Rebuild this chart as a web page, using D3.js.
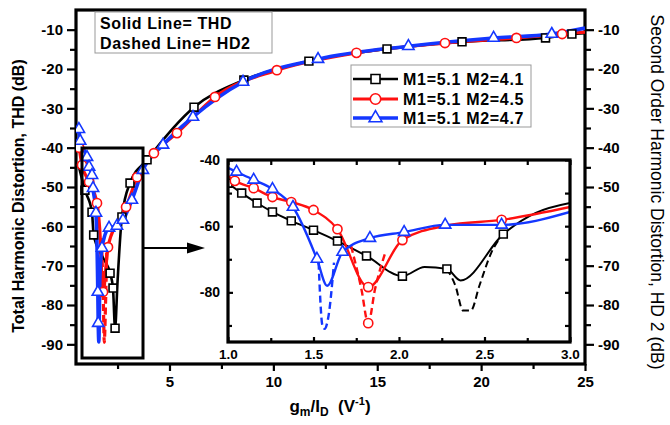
<!DOCTYPE html>
<html><head><meta charset="utf-8">
<script src="https://cdn.jsdelivr.net/npm/d3@7"></script>
<style>
body{margin:0;background:#fff;}
svg{display:block;font-family:"Liberation Sans",Arial,sans-serif;}
</style></head><body>
<svg id="c" width="670" height="425"></svg>
<script>
// ---------------- DATA ----------------
const seriesNames = ["M1=5.1 M2=4.1", "M1=5.1 M2=4.5", "M1=5.1 M2=4.7"];
const xMajorTicks = [5, 10, 15, 20, 25];
const xMinorTicks = [2.5, 7.5, 12.5, 17.5, 22.5];
const yMajorTicks = [-10, -20, -30, -40, -50, -60, -70, -80, -90];
const yMinorTicks = [-15, -25, -35, -45, -55, -65, -75, -85];
const insetXTicks = [1.0, 1.5, 2.0, 2.5, 3.0];
const insetXMinor = [1.25, 1.75, 2.25, 2.75];
const insetYTicks = [-40, -60, -80];
const insetYMinor = [-50, -70, -90];

// main plot: THD (x = gm/ID, y = dB); marked points and unmarked curve points
const mainBlackThd = [[0.93,-50.8],[1.27,-56.4],[1.35,-62.2],[2.14,-71.9],[2.28,-75.7],[2.38,-85.9],[2.71,-57.6],[3.1,-49],[3.92,-43.1],[6.18,-29.7],[8.58,-22.8],[11.71,-18.0],[15.47,-14.9],[19.08,-13.1],[23.1,-12.1],[24.37,-11.1]];
const mainBlackExtra = [[0.6,-44],[1.8,-68],[2.5,-74],[25,-10.9]];
const mainRedThd = [[0.65,-40],[0.79,-44.4],[1.13,-48.7],[1.51,-54.1],[1.8,-76.7],[2.04,-65.3],[2.91,-55.1],[3.44,-47.5],[4.25,-41.4],[5.36,-36.3],[7.19,-27.1],[10.17,-20.3],[14.0,-15.9],[18.26,-13.4],[21.7,-12.1],[23.9,-11.1]];
const mainRedExtra = [[1.64,-60.5],[2.5,-59],[25,-10.6]];
const mainRedHd2 = [[1.72,-63],[1.82,-80],[1.86,-89.5],[1.92,-80],[1.98,-66]];
const mainBlueThd = [[0.64,-35.3],[0.7,-38.3],[1.03,-42.4],[1.13,-44.9],[1.27,-47.0],[1.32,-50.3],[1.46,-56.6],[1.55,-76.7],[1.57,-84.6],[1.75,-65.5],[2.09,-60.4],[2.47,-59.9],[2.76,-58.4],[3.19,-53.3],[3.72,-45.7],[4.69,-39.3],[6.13,-32.2],[8.54,-23.3],[12.15,-17.5],[16.5,-14.2],[20.6,-12.1],[23.4,-11.1]];
const mainBlueExtra = [[1.6,-89.4],[1.65,-73],[25,-9.6]];

// inset: THD marked points, unmarked curve points, and HD2 dashed dips
const insetBlackThd = [[1.0,-47.0],[1.08,-50.0],[1.17,-53.0],[1.26,-55.7],[1.37,-58.4],[1.50,-61.2],[1.64,-64.5],[1.81,-69.0],[2.02,-75.1],[2.28,-72.9],[2.61,-62.4]];
const insetBlackExtra = [[2.15,-72.3],[2.36,-76.4],[2.8,-56],[3.0,-53.0]];
const insetBlackHd2 = [[2.28,-72.9],[2.33,-78],[2.375,-85.5],[2.42,-85.5],[2.47,-78],[2.54,-68],[2.61,-62.4]];
const insetRedThd = [[1.04,-46.3],[1.15,-48.5],[1.26,-51.2],[1.37,-52.7],[1.50,-55.1],[1.64,-60.9],[1.82,-78.4],[2.02,-64.2],[2.60,-58.1]];
const insetRedExtra = [[1.0,-44.8],[2.28,-59.8],[3.0,-54.2]];
const insetRedHd2 = [[1.72,-66],[1.78,-79],[1.82,-89.3],[1.86,-79],[1.92,-68]];
const insetRedHd2Marks = [[1.82,-89.3]];
const insetBlueThd = [[1.05,-43.6],[1.15,-46.0],[1.26,-48.8],[1.38,-54.2],[1.52,-69.9],[1.67,-67.8],[1.83,-63.6],[2.03,-61.8],[2.27,-59.6],[2.60,-59.6]];
const insetBlueExtra = [[1.0,-42.4],[1.58,-78],[3.0,-55.7]];
const insetBlueHd2 = [[1.53,-71],[1.552,-90],[1.565,-91],[1.585,-88],[1.62,-71]];

// ---------------- DRAW ----------------
const svg = d3.select("#c");
const FONT = "'Liberation Sans', Arial, sans-serif";
const x = d3.scaleLinear().domain([0.5, 25]).range([76, 585]);
const y = d3.scaleLinear().domain([-95, -5]).range([364, 10]);
const ix = d3.scaleLinear().domain([1, 3]).range([228, 570]);
const iy = d3.scaleLinear().domain([-95, -40]).range([342, 160]);

const colors = ["#000000", "#ff1010", "#1437ff"];
const symbols = [d3.symbolSquare, d3.symbolCircle, d3.symbolTriangle];
const symSize = [62, 66, 55];

function styleAxis(g, fs) {
  g.select(".domain").remove();
  g.selectAll(".tick line").attr("stroke", "#000").attr("stroke-width", 2.2);
  g.selectAll(".tick text").attr("fill", "#000").attr("font-size", fs).attr("font-weight", "bold")
    .attr("font-family", FONT);
}

// main axes
const fmt = d => String(d);
svg.append("g").attr("transform", "translate(76,0)")
  .call(d3.axisLeft(y).tickValues(yMajorTicks).tickSize(9).tickPadding(4).tickFormat(fmt))
  .call(g => styleAxis(g, 15));
svg.append("g").attr("transform", "translate(76,0)")
  .call(d3.axisLeft(y).tickValues(yMinorTicks).tickSize(6).tickFormat(""))
  .call(g => styleAxis(g, 15));
svg.append("g").attr("transform", "translate(585,0)")
  .call(d3.axisRight(y).tickValues(yMajorTicks).tickSize(9).tickPadding(4).tickFormat(fmt))
  .call(g => styleAxis(g, 15));
svg.append("g").attr("transform", "translate(585,0)")
  .call(d3.axisRight(y).tickValues(yMinorTicks).tickSize(6).tickFormat(""))
  .call(g => styleAxis(g, 15));
svg.append("g").attr("transform", "translate(0,364)")
  .call(d3.axisBottom(x).tickValues(xMajorTicks).tickSize(7).tickPadding(5).tickFormat(fmt))
  .call(g => styleAxis(g, 15));
svg.append("g").attr("transform", "translate(0,364)")
  .call(d3.axisBottom(x).tickValues(xMinorTicks).tickSize(5).tickFormat(""))
  .call(g => styleAxis(g, 15));

svg.append("rect").attr("x", x(0.5)).attr("y", y(-5)).attr("width", x(25) - x(0.5)).attr("height", y(-95) - y(-5))
  .attr("fill", "none").attr("stroke", "#000").attr("stroke-width", 3.2);

// main curves
const mainSeries = [
  {marks: mainBlackThd, extra: mainBlackExtra, hd2: null, lw: 2.6},
  {marks: mainRedThd, extra: mainRedExtra, hd2: mainRedHd2, lw: 3.2},
  {marks: mainBlueThd, extra: mainBlueExtra, hd2: null, lw: 3.6}
];
const mainLine = d3.line().x(d => x(d[0])).y(d => y(d[1])).curve(d3.curveMonotoneX);
const mainClip = svg.append("clipPath").attr("id", "mclip").append("rect")
  .attr("x", x(0.5)).attr("y", y(-5)).attr("width", x(25) - x(0.5)).attr("height", y(-95) - y(-5));
const mg = svg.append("g").attr("clip-path", "url(#mclip)");
mainSeries.forEach((s, i) => {
  const pts = s.marks.concat(s.extra).sort((a, b) => a[0] - b[0]);
  mg.append("path").attr("d", mainLine(pts)).attr("fill", "none").attr("stroke", colors[i])
    .attr("stroke-width", s.lw).attr("stroke-linejoin", "round");
  if (s.hd2) mg.append("path").attr("d", mainLine(s.hd2)).attr("fill", "none").attr("stroke", colors[i])
    .attr("stroke-width", s.lw).attr("stroke-dasharray", "7,4");
});
mainSeries.forEach((s, i) => {
  mg.selectAll(null).data(s.marks).enter().append("path")
    .attr("transform", d => `translate(${x(d[0])},${y(d[1])})`)
    .attr("d", d3.symbol().type(symbols[i]).size(symSize[i]))
    .attr("fill", "#fff").attr("stroke", colors[i]).attr("stroke-width", 1.6);
});

// zoom box + arrow
svg.append("rect").attr("x", 82).attr("y", 148).attr("width", 61).attr("height", 210)
  .attr("fill", "none").attr("stroke", "#000").attr("stroke-width", 3);
svg.append("line").attr("x1", 143).attr("x2", 192).attr("y1", 248).attr("y2", 248).attr("stroke", "#000").attr("stroke-width", 2);
svg.append("path").attr("d", "M187,242.5L205,248L187,253.5Z").attr("fill", "#000");

// inset
const ig = svg.append("g");
ig.append("rect").attr("x", 228).attr("y", 160).attr("width", 342).attr("height", 182).attr("fill", "#fff");
ig.append("g").attr("transform", "translate(0,342)")
  .call(d3.axisBottom(ix).tickValues(insetXTicks).tickSize(-5).tickPadding(7).tickFormat(d3.format(".1f")))
  .call(g => styleAxis(g, 13.5));
ig.append("g").attr("transform", "translate(0,342)")
  .call(d3.axisBottom(ix).tickValues(insetXMinor).tickSize(-4).tickFormat(""))
  .call(g => styleAxis(g, 13.5));
ig.append("g").attr("transform", "translate(0,160)")
  .call(d3.axisTop(ix).tickValues(insetXTicks.concat(insetXMinor)).tickSize(-5).tickFormat(""))
  .call(g => styleAxis(g, 13.5));
ig.append("g").attr("transform", "translate(228,0)")
  .call(d3.axisLeft(iy).tickValues(insetYTicks).tickSize(-5).tickPadding(8).tickFormat(fmt))
  .call(g => styleAxis(g, 14));
ig.append("g").attr("transform", "translate(228,0)")
  .call(d3.axisLeft(iy).tickValues(insetYMinor).tickSize(-4).tickFormat(""))
  .call(g => styleAxis(g, 14));
ig.append("g").attr("transform", "translate(570,0)")
  .call(d3.axisRight(iy).tickValues(insetYTicks.concat(insetYMinor)).tickSize(-5).tickFormat(""))
  .call(g => styleAxis(g, 14));

svg.append("clipPath").attr("id", "iclip").append("rect").attr("x", 228).attr("y", 160).attr("width", 342).attr("height", 182);
const icg = ig.append("g").attr("clip-path", "url(#iclip)");
const insetLine = d3.line().x(d => ix(d[0])).y(d => iy(d[1])).curve(d3.curveMonotoneX);
const insetSeries = [
  {marks: insetBlackThd, extra: insetBlackExtra, hd2: insetBlackHd2, hd2Marks: [], lw: 2},
  {marks: insetRedThd, extra: insetRedExtra, hd2: insetRedHd2, hd2Marks: insetRedHd2Marks, lw: 2.4},
  {marks: insetBlueThd, extra: insetBlueExtra, hd2: insetBlueHd2, hd2Marks: [], lw: 2.4}
];
insetSeries.forEach((s, i) => {
  const pts = s.marks.concat(s.extra).sort((a, b) => a[0] - b[0]);
  icg.append("path").attr("d", insetLine(pts)).attr("fill", "none").attr("stroke", colors[i])
    .attr("stroke-width", s.lw).attr("stroke-linejoin", "round");
  icg.append("path").attr("d", insetLine(s.hd2)).attr("fill", "none").attr("stroke", colors[i])
    .attr("stroke-width", s.lw).attr("stroke-dasharray", "7,4");
});
insetSeries.forEach((s, i) => {
  icg.selectAll(null).data(s.marks.concat(s.hd2Marks)).enter().append("path")
    .attr("transform", d => `translate(${ix(d[0])},${iy(d[1])})`)
    .attr("d", d3.symbol().type(symbols[i]).size(symSize[i]))
    .attr("fill", "#fff").attr("stroke", colors[i]).attr("stroke-width", 1.6);
});
ig.append("rect").attr("x", 228).attr("y", 160).attr("width", 342).attr("height", 182)
  .attr("fill", "none").attr("stroke", "#000").attr("stroke-width", 3.2);

// annotation box
const ann = svg.append("g");
ann.append("rect").attr("x", 95).attr("y", 12).attr("width", 177).attr("height", 41)
  .attr("fill", "#fff").attr("stroke", "#999").attr("stroke-width", 1);
ann.append("text").attr("x", 100).attr("y", 29).text("Solid Line= THD");
ann.append("text").attr("x", 100).attr("y", 49).text("Dashed Line= HD2");
ann.selectAll("text").attr("font-size", 16).attr("font-weight", "bold").attr("letter-spacing", 0.6).attr("font-family", FONT);

// legend
const leg = svg.append("g");
leg.append("rect").attr("x", 351).attr("y", 65).attr("width", 180).attr("height", 62)
  .attr("fill", "#fff").attr("stroke", "#999").attr("stroke-width", 1);
const legRows = [79, 99, 118];
const legLw = [2.6, 3, 3.4];
seriesNames.forEach((n, i) => {
  const ry = legRows[i];
  leg.append("line").attr("x1", 353).attr("x2", 398).attr("y1", ry).attr("y2", ry)
    .attr("stroke", colors[i]).attr("stroke-width", legLw[i]);
  leg.append("path").attr("transform", `translate(375.5,${ry})`)
    .attr("d", d3.symbol().type(symbols[i]).size(symSize[i] * 1.3))
    .attr("fill", "#fff").attr("stroke", colors[i]).attr("stroke-width", 1.6);
  leg.append("text").attr("x", 403).attr("y", ry + 5.5).text(n)
    .attr("font-size", 16).attr("font-weight", "bold").attr("letter-spacing", 0.7).attr("font-family", FONT);
});

// axis titles
svg.append("text").attr("transform", "translate(24,196) rotate(-90)").attr("text-anchor", "middle")
  .attr("font-size", 16).attr("font-weight", "bold").attr("font-family", FONT)
  .text("Total Harmonic Distortion, THD (dB)");
svg.append("text").attr("transform", "translate(651,192) rotate(90)").attr("text-anchor", "middle")
  .attr("font-size", 17.5).attr("font-family", FONT)
  .text("Second Order Harmonic Distortion, HD 2 (dB)");
const xt = svg.append("text").attr("x", 330).attr("y", 412).attr("text-anchor", "middle")
  .attr("font-size", 17).attr("font-weight", "bold").attr("font-family", FONT);
xt.append("tspan").text("g");
xt.append("tspan").attr("dy", 4).attr("font-size", 12).text("m");
xt.append("tspan").attr("dy", -4).text("/I");
xt.append("tspan").attr("dy", 4).attr("font-size", 12).text("D");
xt.append("tspan").attr("dy", -4).text("  (V");
xt.append("tspan").attr("dy", -7).attr("font-size", 11).text("-1");
xt.append("tspan").attr("dy", 7).text(")");
xt.attr("xml:space", "preserve");
</script>
</body></html>
